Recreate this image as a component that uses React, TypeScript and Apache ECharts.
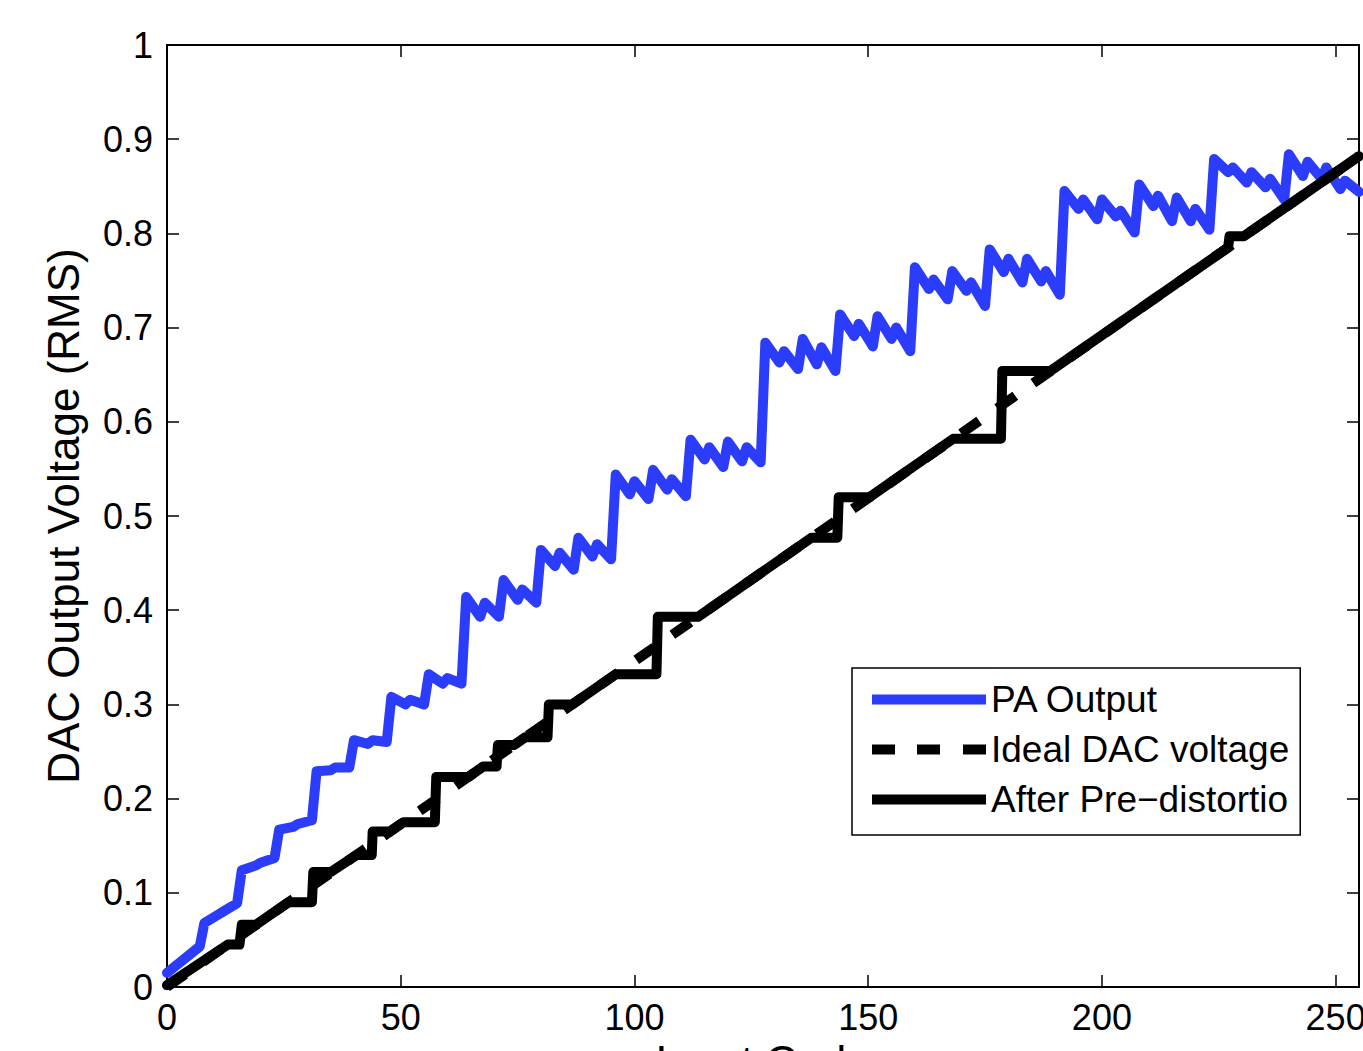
import React, { useEffect, useRef } from "react";
import * as echarts from "echarts";

// ---- data ----
const xTickValues = [0, 50, 100, 150, 200, 250];
const yTickValues = [0, 0.1, 0.2, 0.3, 0.4, 0.5, 0.6, 0.7, 0.8, 0.9, 1];

const seriesNames = ["PA Output", "Ideal DAC voltage", "After Pre\u2212distortio"];

// PA Output: [input code, RMS voltage]
const paOutput: [number, number][] = [
  [0, 0.015], [7, 0.043],
  [8, 0.068], [11, 0.077], [12, 0.080], [15, 0.089],
  [16, 0.124], [19, 0.129], [20, 0.132], [23, 0.137],
  [24, 0.167], [27, 0.170], [28, 0.173], [31, 0.177],
  [32, 0.229], [35, 0.230], [36, 0.233], [39, 0.233],
  [40, 0.262], [43, 0.258], [44, 0.262], [47, 0.260],
  [48, 0.308], [51, 0.300], [52, 0.305], [55, 0.300],
  [56, 0.332], [59, 0.322], [60, 0.328], [63, 0.322],
  [64, 0.414], [67, 0.393], [68, 0.408], [71, 0.393],
  [72, 0.432], [75, 0.411], [76, 0.422], [79, 0.408],
  [80, 0.464], [83, 0.447], [84, 0.461], [87, 0.443],
  [88, 0.477], [91, 0.457], [92, 0.470], [95, 0.454],
  [96, 0.544], [99, 0.523], [100, 0.537], [103, 0.518],
  [104, 0.549], [107, 0.528], [108, 0.539], [111, 0.521],
  [112, 0.581], [115, 0.560], [116, 0.573], [119, 0.552],
  [120, 0.579], [123, 0.558], [124, 0.573], [127, 0.557],
  [128, 0.684], [131, 0.663], [132, 0.675], [135, 0.656],
  [136, 0.688], [139, 0.661], [140, 0.679], [143, 0.654],
  [144, 0.714], [147, 0.691], [148, 0.704], [151, 0.680],
  [152, 0.712], [155, 0.688], [156, 0.700], [159, 0.675],
  [160, 0.764], [163, 0.741], [164, 0.751], [167, 0.730],
  [168, 0.760], [171, 0.739], [172, 0.748], [175, 0.723],
  [176, 0.783], [179, 0.759], [180, 0.773], [183, 0.748],
  [184, 0.773], [187, 0.749], [188, 0.760], [191, 0.735],
  [192, 0.845], [195, 0.826], [196, 0.836], [199, 0.815],
  [200, 0.836], [203, 0.818], [204, 0.824], [207, 0.801],
  [208, 0.852], [211, 0.829], [212, 0.840], [215, 0.813],
  [216, 0.838], [219, 0.813], [220, 0.826], [223, 0.804],
  [224, 0.879], [227, 0.865], [228, 0.870], [231, 0.854],
  [232, 0.865], [235, 0.849], [236, 0.858], [239, 0.836],
  [240, 0.884], [243, 0.861], [244, 0.876], [247, 0.858],
  [248, 0.870], [251, 0.847], [252, 0.856], [255, 0.844],
];

// Ideal DAC voltage: a straight line
const idealDac: [number, number][] = [
  [0, 0],
  [255, 0.882],
];

// After pre-distortion
const afterPreDistortion: [number, number][] = [
  [0, 0.002], [13, 0.045], [15.5, 0.045], [16, 0.066], [19, 0.066],
  [26, 0.090], [31, 0.090], [31.3, 0.122], [35, 0.122],
  [40.5, 0.140], [43.8, 0.140], [44, 0.165], [47.7, 0.165],
  [50.6, 0.175], [57.3, 0.175], [57.6, 0.223], [64.5, 0.223],
  [67.6, 0.234], [70.5, 0.234], [70.8, 0.257], [74.3, 0.257],
  [76.6, 0.265], [81.4, 0.265], [81.7, 0.300], [86.7, 0.300],
  [96, 0.332], [104.7, 0.332], [105, 0.393], [113.6, 0.393],
  [137.9, 0.477], [143.4, 0.477], [143.7, 0.520], [150.3, 0.520],
  [168.2, 0.582], [178.4, 0.582], [178.7, 0.654], [189, 0.654],
  [227, 0.785], [227.3, 0.797], [230.4, 0.797], [255, 0.882],
];

const BLUE = "#2b3cfa";
const FONT = "'Liberation Sans', Arial, Helvetica, sans-serif";

export default function App() {
  const ref = useRef<HTMLDivElement>(null);

  useEffect(() => {
    document.body.style.margin = "0";
    if (!ref.current) return;
    const chart = echarts.init(ref.current, undefined, { renderer: "svg", width: 1363, height: 1051 });

    const axisLine = { show: true, onZero: false, lineStyle: { color: "#000", width: 2 } };
    const axisTick = { show: true, inside: true, length: 12, lineStyle: { color: "#000", width: 1.5 } };

    const option = {
      animation: false,
      backgroundColor: "#ffffff",
      textStyle: { fontFamily: FONT },
      grid: {
        left: 167,
        top: 45,
        right: 4,
        bottom: 64,
        containLabel: false,
        outerBoundsMode: "none",
      },
      xAxis: [
        {
          type: "value",
          position: "bottom",
          min: 0,
          max: 255,
          interval: 50,
          name: "Input Code",
          nameLocation: "middle",
          nameGap: 49,
          nameTextStyle: { fontSize: 44, color: "#000", fontFamily: FONT, lineHeight: 44 },
          axisLine,
          axisTick,
          axisLabel: {
            show: true,
            fontSize: 36,
            color: "#000",
            margin: 12,
            fontFamily: FONT,
            formatter: (v: number) => (xTickValues.includes(v) ? String(v) : ""),
          },
          splitLine: { show: false },
        },
        {
          type: "value",
          position: "top",
          min: 0,
          max: 255,
          interval: 50,
          axisLine,
          axisTick,
          axisLabel: { show: false },
          splitLine: { show: false },
        },
      ],
      yAxis: [
        {
          type: "value",
          position: "left",
          min: 0,
          max: 1,
          interval: 0.1,
          name: "DAC Output Voltage (RMS)",
          nameLocation: "middle",
          nameGap: 82,
          nameTextStyle: { fontSize: 44, color: "#000", fontFamily: FONT, lineHeight: 44 },
          axisLine,
          axisTick,
          axisLabel: {
            show: true,
            fontSize: 36,
            color: "#000",
            margin: 14,
            fontFamily: FONT,
            formatter: (v: number) => {
              const hit = yTickValues.find((t) => Math.abs(t - v) < 1e-9);
              return hit === undefined ? "" : String(hit);
            },
          },
          splitLine: { show: false },
        },
        {
          type: "value",
          position: "right",
          min: 0,
          max: 1,
          interval: 0.1,
          axisLine,
          axisTick,
          axisLabel: { show: false },
          splitLine: { show: false },
        },
      ],
      legend: {
        orient: "vertical",
        left: 852,
        top: 668,
        backgroundColor: "#ffffff",
        borderColor: "#000",
        borderWidth: 1.5,
        borderRadius: 0,
        padding: [13, 11, 17, 20],
        itemWidth: 114,
        itemHeight: 10,
        itemGap: 13,
        textStyle: { fontSize: 37, color: "#000", fontFamily: FONT, lineHeight: 36 },
        data: [
          { name: seriesNames[0], icon: "rect" },
          {
            name: seriesNames[1],
            icon: "path://M0,0H23V10H0Z M45,0H68V10H45Z M91,0H114V10H91Z",
          },
          { name: seriesNames[2], icon: "rect" },
        ],
      },
      series: [
        {
          name: seriesNames[0],
          type: "line",
          xAxisIndex: 0,
          yAxisIndex: 0,
          data: paOutput,
          symbol: "none",
          showSymbol: false,
          color: BLUE,
          itemStyle: { color: BLUE },
          lineStyle: { color: BLUE, width: 10, join: "round", cap: "round" },
          z: 2,
        },
        {
          name: seriesNames[1],
          type: "line",
          xAxisIndex: 0,
          yAxisIndex: 0,
          data: idealDac,
          symbol: "none",
          showSymbol: false,
          color: "#000",
          itemStyle: { color: "#000" },
          lineStyle: { color: "#000", width: 10, type: [22, 22] },
          z: 3,
        },
        {
          name: seriesNames[2],
          type: "line",
          xAxisIndex: 0,
          yAxisIndex: 0,
          data: afterPreDistortion,
          symbol: "none",
          showSymbol: false,
          color: "#000",
          itemStyle: { color: "#000" },
          lineStyle: { color: "#000", width: 10, join: "round", cap: "round" },
          z: 4,
        },
      ],
    };

    chart.setOption(option as any);
    return () => {
      chart.dispose();
    };
  }, []);

  return (
    <div
      ref={ref}
      style={{ position: "absolute", left: 0, top: 0, width: 1363, height: 1051, background: "#fff" }}
    />
  );
}
